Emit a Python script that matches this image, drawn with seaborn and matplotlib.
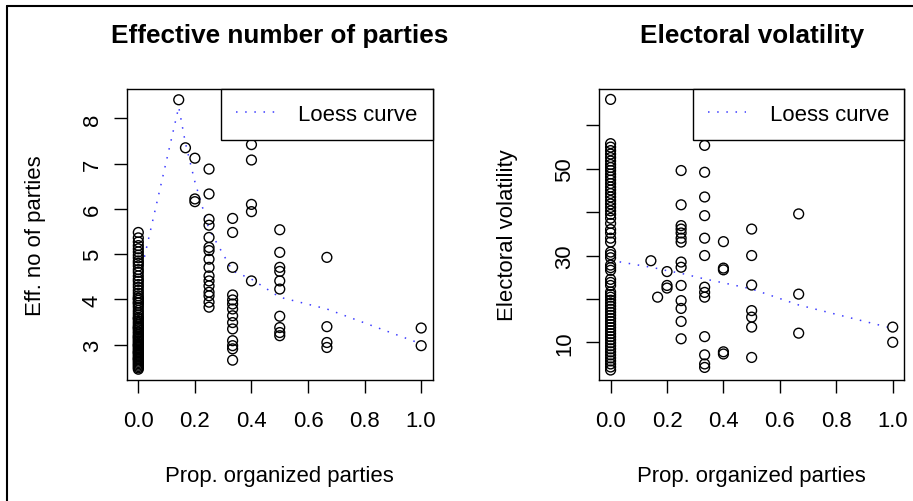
import matplotlib
matplotlib.use("Agg")
import matplotlib.pyplot as plt
from matplotlib.lines import Line2D
import seaborn as sns
import pandas as pd

# ---------------- data ----------------
# Proportion of organized parties (group x positions)
prop_levels = [0.0, 1/7, 1/6, 0.2, 0.25, 1/3, 0.4, 0.5, 2/3, 1.0]

# Effective number of parties, per proportion level
enp_0 = [5.48, 5.36, 5.27, 5.19, 5.12, 5.05, 4.98, 4.92, 4.85, 4.80, 4.74, 4.66,
         4.60, 4.52, 4.45, 4.40, 4.33, 4.27, 4.20, 4.14, 4.08, 4.03, 3.98, 3.92,
         3.87, 3.82, 3.76, 3.71, 3.66, 3.61, 3.57, 3.52, 3.48, 3.44, 3.40, 3.36,
         3.33, 3.29, 3.26, 3.22, 3.19, 3.15, 3.12, 3.09, 3.06, 3.03, 3.00, 2.97,
         2.94, 2.91, 2.88, 2.85, 2.82, 2.79, 2.76, 2.73, 2.70, 2.67, 2.64, 2.61,
         2.58, 2.55, 2.52, 2.49, 2.46, 3.93, 4.02, 3.58, 3.38, 3.17, 2.99, 2.83, 2.69]
enp_1_7 = [8.41]
enp_1_6 = [7.35]
enp_0_2 = [7.12, 6.22, 6.16]
enp_0_25 = [6.88, 6.33, 5.77, 5.64, 5.37, 5.15, 5.08, 4.89, 4.71, 4.52, 4.41,
            4.30, 4.16, 4.08, 3.94, 3.83]
enp_1_3 = [5.79, 5.48, 4.71, 4.10, 3.99, 3.90, 3.79, 3.64, 3.49, 3.35, 3.09,
           2.98, 2.91, 2.66]
enp_0_4 = [7.42, 7.08, 6.10, 5.94, 4.41]
enp_0_5 = [5.54, 5.04, 4.71, 4.62, 4.41, 4.23, 3.63, 3.38, 3.27, 3.20]
enp_2_3 = [4.93, 3.40, 3.05, 2.94]
enp_1 = [3.37, 2.98]
enp_loess = [4.35, 8.25, 7.45, 6.60, 5.55, 4.63, 4.45, 4.05, 3.79, 3.02]

# Electoral volatility, per proportion level
vol_0 = [66.0, 55.8, 55.0, 54.2, 53.4, 52.6, 51.8, 51.0, 50.3, 49.6, 48.8, 48.1,
         47.4, 46.6, 45.8, 45.1, 44.3, 43.5, 42.7, 41.9, 41.1, 40.3, 39.5, 38.6,
         37.4, 36.0, 35.2, 34.0, 33.1, 30.8, 30.2, 29.5, 27.8, 27.2, 26.6, 24.5,
         23.8, 23.1, 21.6, 21.0, 20.4, 19.7, 19.0, 18.3, 17.6, 16.9, 16.2, 15.5,
         14.8, 14.1, 13.4, 12.7, 12.0, 11.3, 10.6, 9.9, 9.2, 8.5, 7.8, 7.1, 6.4,
         5.7, 5.0, 4.3, 3.6]
vol_1_7 = [28.8]
vol_1_6 = [20.4]
vol_0_2 = [26.3, 23.1, 22.5]
vol_0_25 = [49.6, 41.7, 36.9, 36.1, 35.2, 34.0, 33.1, 28.5, 27.3, 23.1, 19.6,
            17.8, 14.8, 10.8]
vol_1_3 = [55.4, 49.2, 43.5, 39.2, 34.0, 30.0, 22.7, 21.5, 20.4, 11.3, 7.1, 5.0, 4.2]
vol_0_4 = [33.2, 27.1, 26.7, 7.8, 7.3]
vol_0_5 = [36.1, 30.0, 23.2, 17.3, 15.8, 13.5, 6.5]
vol_2_3 = [39.6, 21.1, 12.1]
vol_1 = [13.5, 10.0]
vol_loess = [28.9, 27.3, 27.0, 26.5, 25.9, 24.6, 23.7, 22.3, 18.6, 13.2]

enp_groups = [enp_0, enp_1_7, enp_1_6, enp_0_2, enp_0_25, enp_1_3, enp_0_4,
              enp_0_5, enp_2_3, enp_1]
vol_groups = [vol_0, vol_1_7, vol_1_6, vol_0_2, vol_0_25, vol_1_3, vol_0_4,
              vol_0_5, vol_2_3, vol_1]

x_ticks = [0.0, 0.2, 0.4, 0.6, 0.8, 1.0]
x_tick_labels = ["0.0", "0.2", "0.4", "0.6", "0.8", "1.0"]
enp_ticks = [3, 4, 5, 6, 7, 8]
enp_tick_labels = ["3", "4", "5", "6", "7", "8"]
vol_ticks = [10, 20, 30, 40, 50, 60]
vol_tick_labels = ["10", "", "30", "", "50", ""]


def to_frame(groups):
    xs, ys = [], []
    for p, vals in zip(prop_levels, groups):
        xs += [p] * len(vals)
        ys += vals
    return pd.DataFrame({"prop": xs, "value": ys})


enp_df = to_frame(enp_groups)
vol_df = to_frame(vol_groups)
enp_loess_df = pd.DataFrame({"prop": prop_levels, "value": enp_loess})
vol_loess_df = pd.DataFrame({"prop": prop_levels, "value": vol_loess})

# ---------------- style ----------------
sns.set_theme(style="white")
plt.rcParams["font.family"] = ["Liberation Sans", "DejaVu Sans"]
plt.rcParams.update({
    "axes.edgecolor": "black",
    "axes.linewidth": 1.0,
    "xtick.color": "black",
    "ytick.color": "black",
    "text.color": "black",
    "axes.labelcolor": "black",
})

FS = 15.9
W, H = 913, 502
fig = plt.figure(figsize=(W / 100, H / 100), dpi=100)
ax1 = fig.add_axes([127 / W, 1 - 381 / H, 305.5 / W, 291 / H])
ax2 = fig.add_axes([599.3 / W, 1 - 381 / H, 304.7 / W, 291 / H])

panels = [
    (ax1, enp_df, enp_loess_df, "Effective number of parties", "Eff. no of parties",
     (2.222, 8.648), enp_ticks, enp_tick_labels),
    (ax2, vol_df, vol_loess_df, "Electoral volatility", "Electoral volatility",
     (1.3, 68.4), vol_ticks, vol_tick_labels),
]

for ax, df, ldf, title, ylabel, ylim, yt, ytl in panels:
    sns.scatterplot(data=df, x="prop", y="value", ax=ax, marker="o", s=50,
                    facecolors="none", edgecolor="black", linewidth=1.0,
                    zorder=3)
    sns.lineplot(data=ldf, x="prop", y="value", ax=ax, color="#3b3bff",
                 linewidth=1.1, linestyle=(0, (1, 5)), label="Loess curve",
                 zorder=2)
    ax.set_xlim(-0.04, 1.04)
    ax.set_ylim(*ylim)
    ax.set_xticks(x_ticks)
    ax.set_xticklabels(x_tick_labels)
    ax.set_yticks(yt)
    ax.set_yticklabels(ytl)
    ax.tick_params(axis="both", direction="out", length=9.4, width=1.0,
                   labelsize=FS, bottom=True, left=True)
    ax.tick_params(axis="x", pad=12.5)
    ax.tick_params(axis="y", pad=8, labelrotation=90)
    for lab in ax.get_yticklabels():
        lab.set_va("center")
    ax.set_title(title, fontsize=18.8, fontweight="bold", pad=33.5)
    ax.set_xlabel("Prop. organized parties", fontsize=FS, labelpad=24)
    ax.set_ylabel(ylabel, fontsize=FS, labelpad=26)
    for s in ax.spines.values():
        s.set_visible(True)
        s.set_color("black")
        s.set_linewidth(1.0)
    leg = ax.legend(loc="upper right", borderaxespad=0, fancybox=False,
                    edgecolor="black", framealpha=1, fontsize=FS,
                    handlelength=1.75, handletextpad=1.05, borderpad=0.68)
    leg.get_frame().set_linewidth(1.0)

# partial frame around the figure (left and top edges)
fig.add_artist(Line2D([7 / W, 7 / W], [0, 1 - 7 / H], transform=fig.transFigure,
                      color="black", linewidth=1.5))
fig.add_artist(Line2D([7 / W, 1], [1 - 7 / H, 1 - 7 / H], transform=fig.transFigure,
                      color="black", linewidth=1.5))

fig.savefig("out.png", dpi=100)
